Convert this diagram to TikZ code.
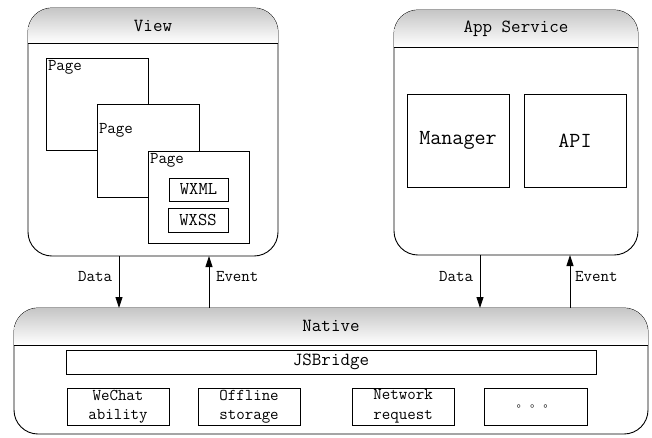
\documentclass[tikz,border=0pt]{standalone}
\usepackage{fontspec}
\newfontfamily\cjk{Noto Sans CJK SC}
\usetikzlibrary{arrows.meta, positioning}

\tikzset{
  panel/.style={draw, line width=0.9pt, rounded corners=24pt},
  title/.style={font=\ttfamily\fontsize{18.5}{21}\selectfont},
  pagebox/.style={draw, line width=0.9pt, fill=white, minimum width=102pt, minimum height=92pt},
  tagbox/.style={draw, line width=0.9pt, fill=white, minimum width=59pt, minimum height=23pt,
    font=\ttfamily\fontsize{18}{20}\selectfont},
  modbox/.style={draw, line width=0.9pt, minimum width=102pt, minimum height=93pt,
    font=\ttfamily\fontsize{21.5}{24}\selectfont},
  capbox/.style={draw, line width=0.9pt, minimum width=102pt, minimum height=37pt, align=center,
    font=\ttfamily\fontsize{16.5}{19.5}\selectfont},
  flow/.style={line width=0.9pt, -{Triangle[length=11pt, width=7pt]}}
}

% shaded title strip of a rounded panel
\newcommand{\panelhead}[2]{%
  \begin{scope}
    \clip[rounded corners=24pt] (#1.north west) rectangle (#1.south east);
    \shade[top color=gray!45, bottom color=white] (#1.north west) rectangle ([yshift=-#2]#1.north east);
  \end{scope}
  \draw[line width=0.9pt] ([yshift=-#2]#1.north west) -- ([yshift=-#2]#1.north east);
}

\begin{document}
\begin{tikzpicture}
[
  x=1pt, y=-1pt,
  every node/.style={inner sep=1pt, outer sep=0pt, font=\ttfamily\fontsize{16.5}{19}\selectfont}
]
\useasboundingbox (0,0) rectangle (652,437);

% upper layers
\node[panel, minimum width=250pt, minimum height=248pt] (view) at (153,132) {};
\panelhead{view}{35pt}
\node[title] (viewtitle) at ([yshift=-18pt]view.north) {View};
\node[panel, minimum width=244pt, minimum height=245pt] (app) at (516,132.5) {};
\panelhead{app}{37pt}
\node[title] (apptitle) at ([yshift=-19pt]app.north) {App Service};

% stacked pages
\node[pagebox] (page1) at (97,104) {};
\node[anchor=north west, inner sep=2pt] (page1lbl) at (page1.north west) {Page};
\node[pagebox, minimum height=93pt] (page2) at (148,150.5) {};
\node[anchor=west, inner sep=2pt] (page2lbl) at ([yshift=20pt]page2.west) {Page};
\node[pagebox, minimum width=101pt] (page3) at (198.5,197) {};
\node[anchor=north west, inner sep=2pt] (page3lbl) at (page3.north west) {Page};
\node[tagbox] (wxml) at (198.5,189.5) {WXML};
\node[tagbox, minimum width=60pt, minimum height=24pt] (wxss) at (198,220) {WXSS};

\node[modbox] (manager) at (458,140.5) {Manager};
\node[modbox] (api) at (575,140.5) {API};

% native layer
\node[panel, minimum width=634pt, minimum height=126pt] (native) at (331,371) {};
\panelhead{native}{37pt}
\node[title] (nativetitle) at ([yshift=-18pt]native.north) {Native};
\node[draw, line width=0.9pt, minimum width=530pt, minimum height=24pt,
  font=\ttfamily\fontsize{18.5}{21}\selectfont] (jsb) at (331,362) {JSBridge};
\node[capbox] (wechat) at (118,406.5) {WeChat\\ability};
\node[capbox] (offline) at (249,406.5) {Offline\\storage};
\node[capbox] (network) at (403,406.5) {Network\\request};
\node[capbox, minimum width=103pt, font=\cjk\fontsize{11}{13}\selectfont] (more) at (535.5,406.5) {。 。 。};

% data and events
\draw[flow] ([xshift=-34pt]view.south) -- ([xshift=-34pt]view.south |- native.north)
  node[midway, left=6pt, yshift=5pt] (vdata) {Data};
\draw[flow] ([xshift=56pt]view.south |- native.north) -- ([xshift=56pt]view.south)
  node[midway, right=6pt, yshift=5pt] (vevent) {Event};
\draw[flow] ([xshift=-36pt]app.south) -- ([xshift=-36pt]app.south |- native.north)
  node[midway, left=6pt, yshift=5pt] (adata) {Data};
\draw[flow] ([xshift=54pt]app.south |- native.north) -- ([xshift=54pt]app.south)
  node[midway, right=4pt, yshift=5pt] (aevent) {Event};
\end{tikzpicture}
\end{document}
